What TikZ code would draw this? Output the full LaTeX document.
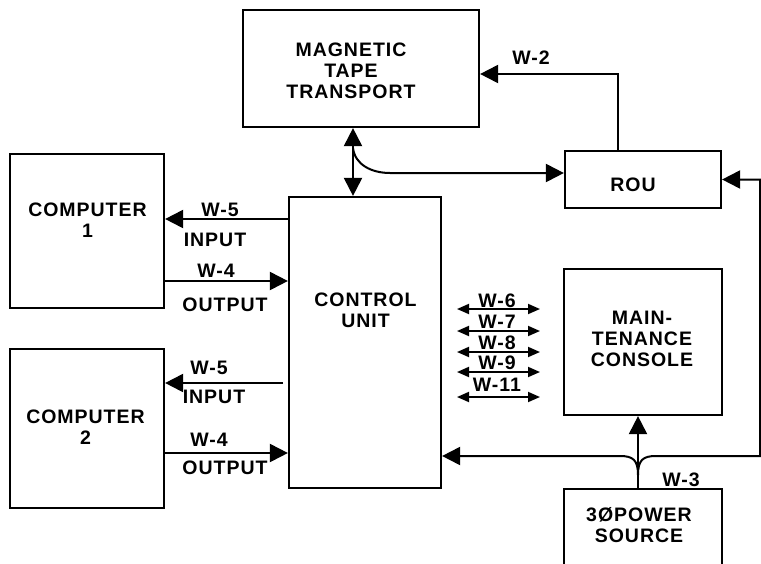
\documentclass[tikz,border=0pt]{standalone}
\usepackage{fontspec}
\setmainfont{Liberation Sans}[LetterSpace=5]
\usetikzlibrary{arrows.meta}
\begin{document}
\begin{tikzpicture}[x=1pt,y=-1pt,
  box/.style={draw, line width=2.2pt, inner sep=0pt, minimum width=#1},
  txt/.style={font=\fontsize{19.5}{21}\selectfont\bfseries, align=center, inner sep=0pt},
  wire/.style={line width=2pt},
  big/.style={wire, -{Triangle[length=18pt,width=18pt]}},
  bigboth/.style={wire, {Triangle[length=18pt,width=18pt]}-{Triangle[length=18pt,width=18pt]}},
  smallboth/.style={line width=1.8pt, {Triangle[length=12pt,width=10pt]}-{Triangle[length=12pt,width=10pt]}}
]
\useasboundingbox (0,0) rectangle (761,563);
\fill[white] (0,0) rectangle (761,563);

% boxes
\node[box=236pt, minimum height=117pt] (tape) at (361,68.5) {};
\node[box=156pt, minimum height=57pt] (rou) at (643,179.5) {};
\node[box=152pt, minimum height=291pt] (ctrl) at (365,342.5) {};
\node[box=154pt, minimum height=154pt] (c1) at (87,231) {};
\node[box=154pt, minimum height=159pt] (c2) at (87,428.5) {};
\node[box=158pt, minimum height=146pt] (mc) at (643,342) {};
\node[box=158pt, minimum height=80pt] (ps) at (643,529) {};

% box texts
\node[txt] (tapetext) at (351,70.5) {MAGNETIC\\TAPE\\TRANSPORT};
\node[txt] (routext) at (633,185) {ROU};
\node[txt] (ctrltext) at (365.5,310.5) {CONTROL\\UNIT};
\node[txt] (c1text) at (87.5,220) {COMPUTER\\1};
\node[txt] (c2text) at (85.5,427.5) {COMPUTER\\2};
\node[txt] (mctext) at (642,338.5) {MAIN-\\TENANCE\\CONSOLE};
\node[txt] (pstext) at (639,525) {3ØPOWER\\SOURCE};

% coordinates
\coordinate (w2) at (618,74);
\coordinate (tc) at (353,0);
\coordinate (br) at (353,148);
\coordinate (brend) at (390,173);
\coordinate (re) at (760,456);
\coordinate (pv) at (638,475);
\coordinate (pl) at (620,456);
\coordinate (pr) at (656,456);
\coordinate (c2in) at (283,383);

% W-2
\draw[big] (rou.north -| w2) |- (tape.east |- w2);
\node[txt] (lw2) at (531,58) {W-2};

% tape <-> control
\draw[bigboth] (tape.south -| tc) -- (ctrl.north -| tc);
\draw[big] (br) .. controls (355,165) and (372,173) .. (brend) -- (rou.west |- brend);

% power source
\draw[big] (ps.north -| pv) -- (mc.south -| pv);
\draw[big] (pv) .. controls (638,460) and (633,456) .. (pl) -- (ctrl.east |- pl);
\draw[big] (pv) .. controls (638,460) and (643,456) .. (pr) -- (re) |- (rou.east);
\node[txt] (lw3) at (681,480) {W-3};

% computer 1
\draw[big] (ctrl.west |- 0,219) -- (c1.east |- 0,219);
\draw[big] (c1.east |- 0,281) -- (ctrl.west |- 0,281);
\node[txt] (l1w5) at (220,210) {W-5};
\node[txt] (l1in) at (215,240) {INPUT};
\node[txt] (l1w4) at (216,271) {W-4};
\node[txt] (l1out) at (225,305) {OUTPUT};

% computer 2
\draw[big] (c2in) -- (c2.east |- c2in);
\draw[big] (c2.east |- 0,453) -- (ctrl.west |- 0,453);
\node[txt] (l2w5) at (209,368) {W-5};
\node[txt] (l2in) at (214,397) {INPUT};
\node[txt] (l2w4) at (209,440) {W-4};
\node[txt] (l2out) at (225,468) {OUTPUT};

% W-6 .. W-11
\foreach \n/\y/\ly in {6/309/301, 7/331/322, 8/352/343, 9/372/363, 11/397/385}{
  \coordinate (a\n) at (457,\y);
  \coordinate (b\n) at (540,\y);
  \draw[smallboth] (a\n) -- (b\n);
  \node[txt] (lw\n) at (497,\ly) {W-\n};
}
\end{tikzpicture}
\end{document}
